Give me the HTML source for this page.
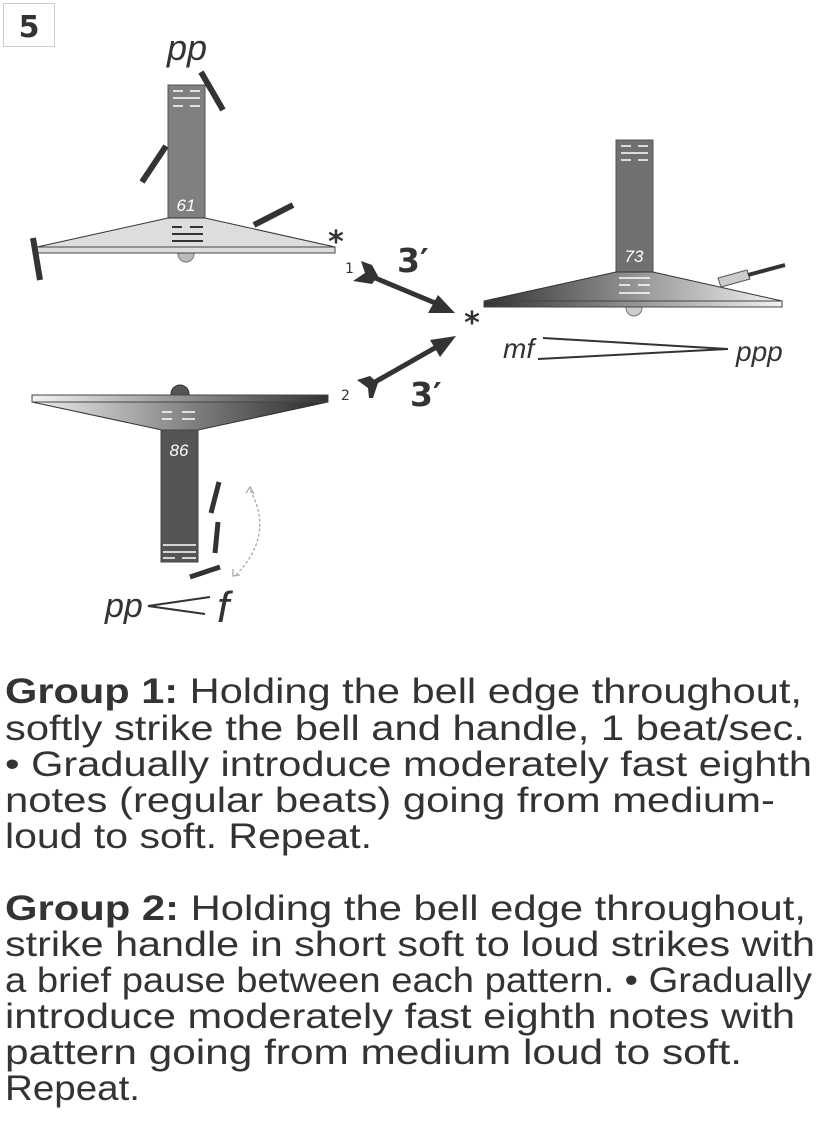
<!DOCTYPE html>
<html><head><meta charset="utf-8"><style>
html,body{margin:0;padding:0;background:#fff;}
svg{display:block;}
.t{font-family:"Liberation Sans","DejaVu Sans",sans-serif;font-size:35px;fill:#333;}
.i{font-family:"Liberation Sans",sans-serif;font-style:italic;fill:#333;}
</style></head><body>
<svg width="816" height="1122" viewBox="0 0 816 1122" xmlns="http://www.w3.org/2000/svg">
<defs>
<linearGradient id="gR" x1="0" x2="1" y1="0" y2="0"><stop offset="0" stop-color="#333"/><stop offset="1" stop-color="#f2f2f2"/></linearGradient>
<linearGradient id="gB" x1="0" x2="1" y1="0" y2="0"><stop offset="0" stop-color="#f2f2f2"/><stop offset="1" stop-color="#333"/></linearGradient>
<linearGradient id="gBt" x1="0" x2="1" y1="0" y2="0"><stop offset="0" stop-color="#eee"/><stop offset="0.5" stop-color="#888"/><stop offset="1" stop-color="#2a2a2a"/></linearGradient>
</defs>
<rect x="3.5" y="3.5" width="51" height="43" fill="#fff" stroke="#ccc"/>
<text x="29" y="37" text-anchor="middle" font-family="DejaVu Sans,sans-serif" font-weight="bold" font-size="30" fill="#333">5</text>

<text x="187" y="60" text-anchor="middle" class="i" font-size="36">pp</text>
<circle cx="186" cy="254" r="8" fill="#bbb" stroke="#777"/>
<rect x="168" y="85" width="37" height="133" fill="#808080" stroke="#555"/>
<g stroke="#fff" stroke-width="1.5"><line x1="173" y1="91" x2="183" y2="91"/><line x1="190" y1="91" x2="200" y2="91"/><line x1="173" y1="98" x2="200" y2="98"/><line x1="173" y1="106" x2="183" y2="106"/><line x1="190" y1="106" x2="200" y2="106"/></g>
<text x="186" y="211" text-anchor="middle" class="i" font-size="17" style="fill:#fff">61</text>
<polygon points="168,218 205,218 335,247 37,247" fill="#ddd" stroke="#333"/>
<rect x="37" y="247" width="298" height="6" fill="#ddd" stroke="#444"/>
<g stroke="#333" stroke-width="2"><line x1="172" y1="227" x2="182" y2="227"/><line x1="190" y1="227" x2="203" y2="227"/><line x1="172" y1="234" x2="203" y2="234"/><line x1="172" y1="241" x2="203" y2="241"/></g>
<g stroke="#333" stroke-width="6"><line x1="201" y1="72" x2="223" y2="110"/><line x1="142" y1="182" x2="166" y2="146"/><line x1="254" y1="225" x2="293" y2="205"/><line x1="33" y1="238" x2="40" y2="280"/></g>
<text x="336" y="252" text-anchor="middle" font-family="DejaVu Sans,sans-serif" font-weight="bold" font-size="30" fill="#333">*</text>

<text x="345" y="273" font-family="DejaVu Sans,sans-serif" font-size="14" fill="#333">1</text>
<line x1="368" y1="275" x2="440" y2="305" stroke="#333" stroke-width="5"/>
<polygon points="455,313 428,313 438,295" fill="#333"/>
<polygon points="361,261 372,265 378,276 372,284 353,281 365,273" fill="#333"/>
<text x="397" y="272" font-family="DejaVu Sans,sans-serif" font-weight="bold" font-size="33" fill="#333">3′</text>
<text x="472" y="333" text-anchor="middle" font-family="DejaVu Sans,sans-serif" font-weight="bold" font-size="30" fill="#333">*</text>
<text x="341" y="400" font-family="DejaVu Sans,sans-serif" font-size="14" fill="#333">2</text>
<line x1="368" y1="386" x2="440" y2="345" stroke="#333" stroke-width="5"/>
<polygon points="456,336 440,357 430,340" fill="#333"/>
<polygon points="357,380 370,376 378,383 373,398 369,398 368,388" fill="#333"/>
<text x="410" y="406" font-family="DejaVu Sans,sans-serif" font-weight="bold" font-size="33" fill="#333">3′</text>

<circle cx="634" cy="308" r="8" fill="#ccc" stroke="#777"/>
<rect x="616" y="140" width="37" height="132" fill="#707070" stroke="#555"/>
<g stroke="#fff" stroke-width="1.5"><line x1="621" y1="146" x2="631" y2="146"/><line x1="638" y1="146" x2="648" y2="146"/><line x1="621" y1="153" x2="648" y2="153"/><line x1="621" y1="160" x2="631" y2="160"/><line x1="638" y1="160" x2="648" y2="160"/></g>
<text x="634" y="262" text-anchor="middle" class="i" font-size="17" style="fill:#fff">73</text>
<polygon points="616,272 653,272 782,301 484,301" fill="url(#gR)" stroke="#333"/>
<rect x="484" y="301" width="298" height="6" fill="url(#gR)" stroke="#444"/>
<g stroke="#fff" stroke-width="1.5"><line x1="619" y1="278" x2="650" y2="278"/><line x1="619" y1="285" x2="630" y2="285"/><line x1="638" y1="285" x2="650" y2="285"/><line x1="619" y1="293" x2="650" y2="293"/></g>
<polygon points="718,278 747,270 750,279 721,287" fill="#ccc" stroke="#555"/>
<line x1="748" y1="275" x2="785" y2="265" stroke="#333" stroke-width="4"/>
<text x="503" y="358" class="i" font-size="28">mf</text>
<polyline points="543,338 728,349 538,359" fill="none" stroke="#333" stroke-width="2"/>
<text x="736" y="361" class="i" font-size="28">ppp</text>

<circle cx="180" cy="394" r="9" fill="#555" stroke="#333"/>
<polygon points="32,402 328,402 198,430 162,430" fill="url(#gBt)" stroke="#333"/>
<rect x="32" y="395" width="296" height="7" fill="url(#gB)" stroke="#444"/>
<g stroke="#fff" stroke-width="1.5"><line x1="162" y1="412" x2="172" y2="412"/><line x1="182" y1="412" x2="195" y2="412"/><line x1="162" y1="419" x2="172" y2="419"/><line x1="182" y1="419" x2="195" y2="419"/></g>
<rect x="161" y="430" width="37" height="132" fill="#555" stroke="#444"/>
<text x="179" y="456" text-anchor="middle" class="i" font-size="17" style="fill:#fff">86</text>
<g stroke="#fff" stroke-width="1.5"><line x1="163" y1="545" x2="196" y2="545"/><line x1="163" y1="552" x2="196" y2="552"/><line x1="163" y1="558" x2="175" y2="558"/><line x1="182" y1="558" x2="196" y2="558"/></g>
<g stroke="#333" stroke-width="5"><line x1="219" y1="482" x2="211" y2="513"/><line x1="218" y1="522" x2="215" y2="553"/><line x1="190" y1="577" x2="220" y2="567"/></g>
<path d="M236,575 Q275,535 250,490" fill="none" stroke="#aaa" stroke-width="1.3" stroke-dasharray="3,2"/>
<polyline points="246,493 250,487 254,494" fill="none" stroke="#aaa" stroke-width="1.3"/>
<polyline points="233,569 233,576 240,575" fill="none" stroke="#aaa" stroke-width="1.3"/>
<text x="105" y="617" class="i" font-size="34">pp</text>
<polyline points="210,597 148,606 205,614" fill="none" stroke="#333" stroke-width="2"/>
<text x="217" y="622" class="i" font-size="44">f</text>

<text class="t" x="5" y="703" textLength="797" lengthAdjust="spacingAndGlyphs"><tspan font-weight="bold">Group 1:</tspan> Holding the bell edge throughout,</text>
<text class="t" x="5" y="740" textLength="800" lengthAdjust="spacingAndGlyphs">softly strike the bell and handle, 1 beat/sec.</text>
<text class="t" x="5" y="776" textLength="807" lengthAdjust="spacingAndGlyphs">• Gradually introduce moderately fast eighth</text>
<text class="t" x="5" y="812" textLength="770" lengthAdjust="spacingAndGlyphs">notes (regular beats) going from medium-</text>
<text class="t" x="5" y="848" textLength="367" lengthAdjust="spacingAndGlyphs">loud to soft. Repeat.</text>
<text class="t" x="5" y="920" textLength="801" lengthAdjust="spacingAndGlyphs"><tspan font-weight="bold">Group 2:</tspan> Holding the bell edge throughout,</text>
<text class="t" x="5" y="956" textLength="810" lengthAdjust="spacingAndGlyphs">strike handle in short soft to loud strikes with</text>
<text class="t" x="5" y="992" textLength="807" lengthAdjust="spacingAndGlyphs">a brief pause between each pattern. • Gradually</text>
<text class="t" x="5" y="1028" textLength="790" lengthAdjust="spacingAndGlyphs">introduce moderately fast eighth notes with</text>
<text class="t" x="5" y="1064" textLength="737" lengthAdjust="spacingAndGlyphs">pattern going from medium loud to soft.</text>
<text class="t" x="5" y="1100" textLength="135" lengthAdjust="spacingAndGlyphs">Repeat.</text>
</svg>
</body></html>
